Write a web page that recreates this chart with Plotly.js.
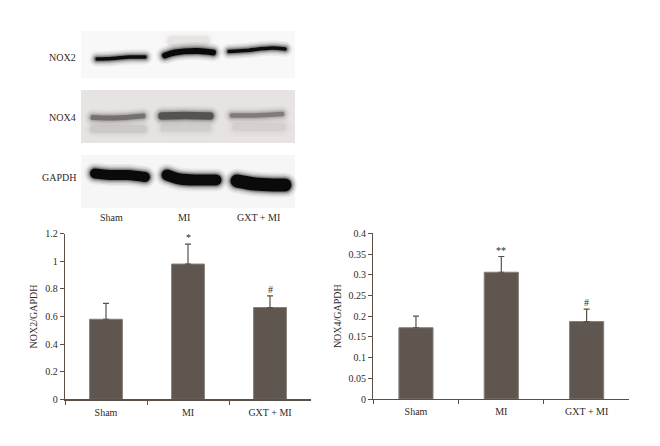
<!DOCTYPE html>
<html><head><meta charset="utf-8">
<script src="https://cdn.plot.ly/plotly-3.0.1.min.js"></script>
<style>html,body{margin:0;padding:0;background:#fff}#c{width:660px;height:446px}
.scatterlayer .js-line{stroke-linecap:round}</style>
</head><body><div id="c"></div>
<script>
// Bar chart data
const categories = ["Sham", "MI", "GXT + MI"];
const nox2Values = [0.58, 0.98, 0.665];
const nox2Errors = [0.115, 0.145, 0.085];
const nox2Marks = ["", "*", "#"];
const nox2Ticks = [0, 0.2, 0.4, 0.6, 0.8, 1, 1.2];
const nox4Values = [0.172, 0.306, 0.187];
const nox4Errors = [0.028, 0.038, 0.03];
const nox4Marks = ["", "**", "#"];
const nox4Ticks = [0, 0.05, 0.1, 0.15, 0.2, 0.25, 0.3, 0.35, 0.4];

// Blot panels (image pixel coordinates): [x0, x1, y0, y1, fill]
const blotPanels = [
  [81, 295, 31, 78, "#f9f8f8"],
  [81, 295, 90, 143, "#e6e3e2"],
  [81, 295, 155, 208, "#f7f6f6"]
];
const blotLabels = [["NOX2", 57], ["NOX4", 117], ["GAPDH", 177]];
// Blot bands: x, y, thickness, colour, opacity
const bands = [
  {x:[172,205], y:[41,41], w:10, c:"#dcd8d6", o:0.45},
  {x:[97,112,130,145], y:[59,58.5,57,57], w:3.5, c:"#0c0c0c", o:1},
  {x:[165,175,198,213], y:[55.5,52.5,51,52.5], w:6, c:"#0a0a0a", o:1},
  {x:[229,245,272,285], y:[51.5,50.5,48,49], w:3.5, c:"#0c0c0c", o:1},
  {x:[94,120,143], y:[129,129,129], w:8, c:"#c8c4c3", o:0.75},
  {x:[164,208], y:[128,128], w:7, c:"#cdc9c8", o:0.7},
  {x:[236,282], y:[127,127], w:8, c:"#d0cccb", o:0.65},
  {x:[93,115,143], y:[117.5,118,116], w:5, c:"#6f6a69", o:0.9},
  {x:[162,185,210], y:[116,115.5,116], w:7.5, c:"#4f4a48", o:0.9},
  {x:[232,255,282], y:[115.5,115.5,114], w:4.5, c:"#7a7573", o:0.9},
  {x:[95,110,128,145], y:[173.5,175,175,177], w:10, c:"#0a0a0a", o:1},
  {x:[167,180,200,216], y:[175,179,180,180], w:11, c:"#0a0a0a", o:1},
  {x:[237,255,275,285], y:[181,184,185,185], w:13, c:"#0a0a0a", o:1}
];
const laneLabels = [["Sham", 111], ["MI", 184], ["GXT + MI", 258]];

const W = 660, H = 446;
const barColor = "#5f5650", edge = "#857e77", axisColor = "#5a5048", textColor = "#2f2a26";
const font = "Liberation Serif, serif";

const traces = [];
// blot bands with soft halos, on a hidden image-pixel axis
bands.forEach(b => {
  [[12, 0.05], [9, 0.08], [6, 0.12], [4, 0.16], [2, 0.25]].forEach(([extra, op]) => traces.push({
    type: "scatter", mode: "lines", x: b.x, y: b.y, xaxis: "x3", yaxis: "y3",
    line: {color: b.c, width: b.w + extra, shape: "spline"}, opacity: op * b.o, hoverinfo: "skip"
  }));
  traces.push({
    type: "scatter", mode: "lines", x: b.x, y: b.y, xaxis: "x3", yaxis: "y3",
    line: {color: b.c, width: b.w, shape: "spline"}, opacity: b.o, hoverinfo: "skip"
  });
});

function barTrace(vals, errs, ax, ay) {
  return {
    type: "bar", x: categories, y: vals, xaxis: ax, yaxis: ay, width: 0.4,
    marker: {color: barColor, line: {color: edge, width: 1}},
    error_y: {type: "data", array: errs, arrayminus: [0, 0, 0], symmetric: false,
      color: axisColor, thickness: 1.2, width: 3}
  };
}
traces.push(barTrace(nox2Values, nox2Errors, "x", "y"));
traces.push(barTrace(nox4Values, nox4Errors, "x2", "y2"));

function xAxis(domain, anchor) {
  return {domain: domain, anchor: anchor, type: "category", categoryorder: "array",
    categoryarray: categories, tickson: "boundaries", ticks: "outside", ticklen: 4, tickwidth: 1,
    tickcolor: axisColor, showline: true, linecolor: axisColor, linewidth: 1.2, showgrid: false,
    ticklabelstandoff: 3,
    tickfont: {family: font, size: 10, color: textColor}, zeroline: false, fixedrange: true};
}
function yAxis(domain, anchor, range, ticks, title, standoff) {
  return {domain: domain, anchor: anchor, range: range, tickmode: "array", tickvals: ticks,
    ticktext: ticks.map(String), ticks: "outside", ticklen: 4, tickwidth: 1, tickcolor: axisColor,
    showline: true, linecolor: axisColor, linewidth: 1.2, showgrid: false, zeroline: false,
    tickfont: {family: font, size: 10, color: textColor}, fixedrange: true,
    title: {text: title, font: {family: font, size: 10, color: textColor}, standoff: standoff}};
}
const vd = (top, bottom) => [1 - bottom / H, 1 - top / H];
const hd = (l, r) => [l / W, r / W];

const annotations = [];
function marks(list, vals, errs, ax, ay) {
  list.forEach((m, i) => { if (m) annotations.push({
    text: m, x: categories[i], y: vals[i] + errs[i], xref: ax, yref: ay, showarrow: false,
    yanchor: "bottom", yshift: -1, font: {family: font, size: 10, color: textColor}
  }); });
}
marks(nox2Marks, nox2Values, nox2Errors, "x", "y");
marks(nox4Marks, nox4Values, nox4Errors, "x2", "y2");
blotLabels.forEach(([t, y]) => annotations.push({
  text: t, x: 76, y: y, xref: "x3", yref: "y3", xanchor: "right", showarrow: false,
  xshift: 2, font: {family: font, size: 10, color: textColor}
}));
laneLabels.forEach(([t, x]) => annotations.push({
  text: t, x: x, y: 217, xref: "x3", yref: "y3", showarrow: false,
  font: {family: font, size: 10, color: textColor}
}));

const layout = {
  width: W, height: H, margin: {l: 0, r: 0, t: 0, b: 0}, showlegend: false,
  paper_bgcolor: "#fff", plot_bgcolor: "rgba(0,0,0,0)", bargap: 0.6,
  xaxis: xAxis(hd(65, 311), "y"),
  yaxis: yAxis(vd(233.7, 399.3), "x", [0, 1.2], nox2Ticks, "NOX2/GAPDH", 5),
  xaxis2: xAxis(hd(373.3, 629.3), "y2"),
  yaxis2: yAxis(vd(233.3, 399), "x2", [0, 0.4], nox4Ticks, "NOX4/GAPDH", 5),
  xaxis3: {domain: [0, 1], range: [0, W], visible: false, fixedrange: true, anchor: "y3"},
  yaxis3: {domain: [0, 1], range: [H, 0], visible: false, fixedrange: true, anchor: "x3"},
  shapes: blotPanels.map(p => ({type: "rect", xref: "x3", yref: "y3", x0: p[0], x1: p[1], y0: p[2], y1: p[3],
    fillcolor: p[4], line: {width: 0}, layer: "below"})),
  annotations: annotations
};
Plotly.newPlot("c", traces, layout, {displayModeBar: false, staticPlot: true});
</script></body></html>
